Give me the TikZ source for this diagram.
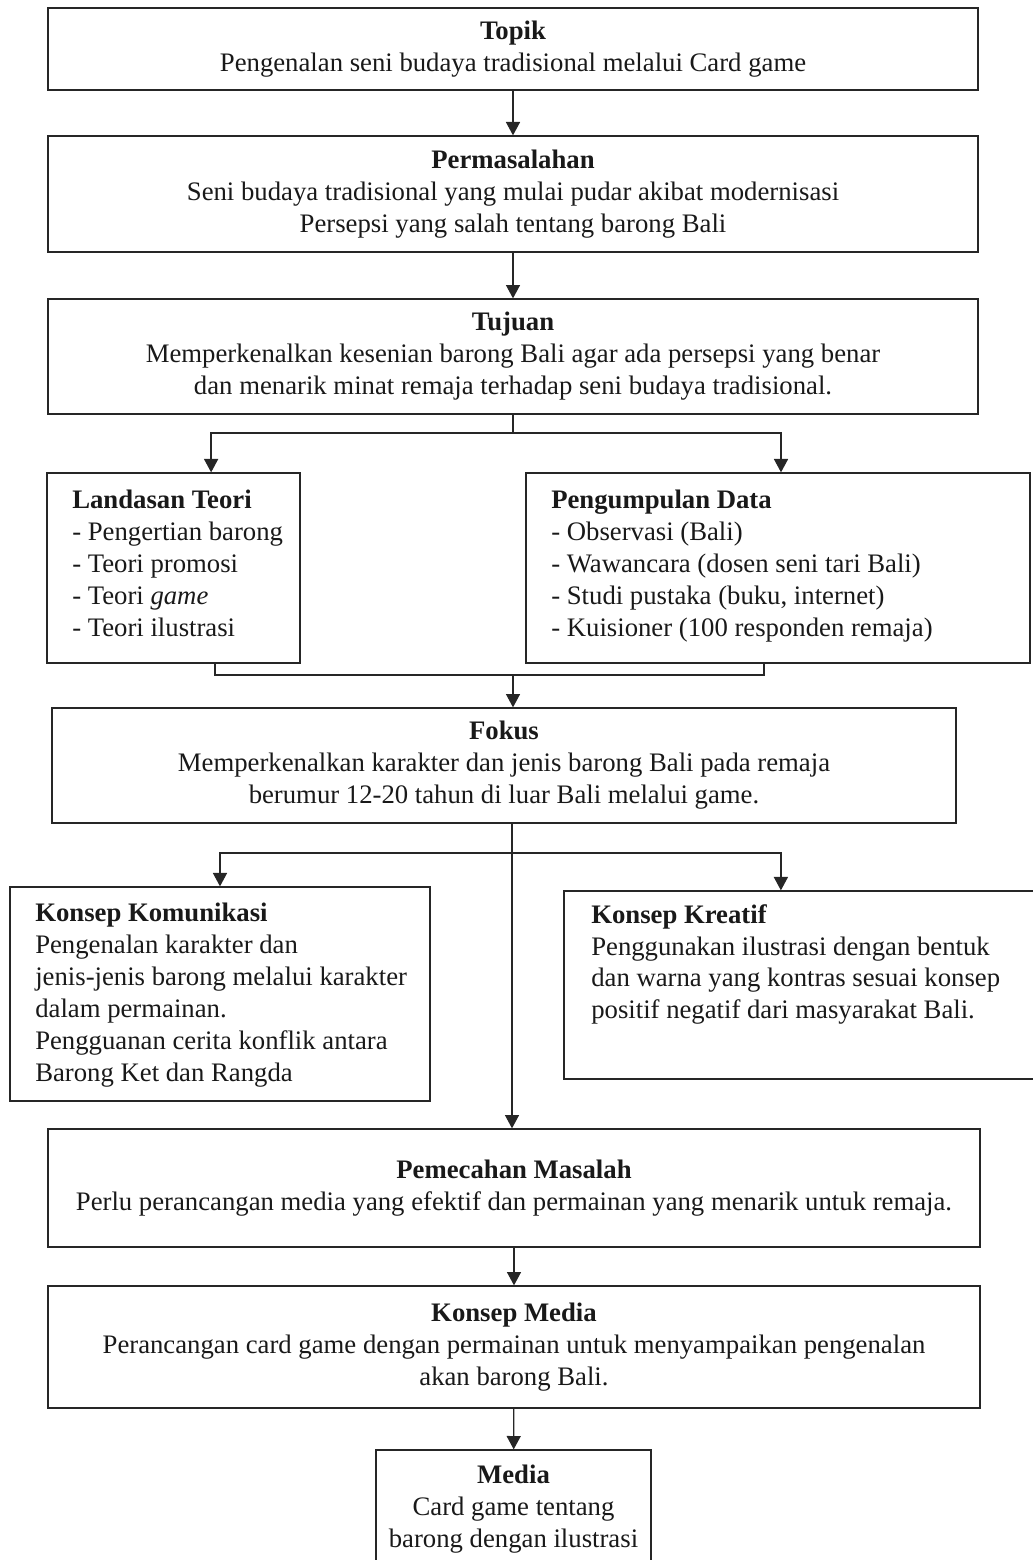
\documentclass[tikz,border=0pt]{standalone}
\usepackage{fontspec}
\setmainfont{Liberation Serif}
\usetikzlibrary{arrows.meta}

\begin{document}
\begin{tikzpicture}[x=0.025cm, y=-0.025cm,
    box/.style={draw=black!85, line width=0.9pt, align=center, inner sep=0pt, font=\fontsize{19}{22.7}\selectfont, text=black!90},
    txt/.style={align=left, inner sep=0pt, anchor=north west, font=\fontsize{19}{22.7}\selectfont, text=black!90},
    link/.style={draw=black!85, line width=0.9pt},
    arr/.style={link, -{Triangle[length=9.5pt, width=10pt]}}]
    \useasboundingbox (0,0) rectangle (1033,1560);

    % Topik, Permasalahan, Tujuan
    \node[box, minimum width=23.25cm, minimum height=2.05cm] (topik) at (513,49) {\textbf{Topik}\\Pengenalan seni budaya tradisional melalui Card game};
    \node[box, minimum width=23.25cm, minimum height=2.9cm] (masalah) at (513,194) {\textbf{Permasalahan}\\Seni budaya tradisional yang mulai pudar akibat modernisasi\\Persepsi yang salah tentang barong Bali};
    \node[box, minimum width=23.25cm, minimum height=2.875cm] (tujuan) at (513,356.5) {\textbf{Tujuan}\\Memperkenalkan kesenian barong Bali agar ada persepsi yang benar\\dan menarik minat remaja terhadap seni budaya tradisional.};

    % Landasan Teori
    \node[box, minimum width=6.325cm, minimum height=4.75cm] (teori) at (173.5,568) {};
    \node[txt] (teoriT) at (72,490) {\textbf{Landasan Teori}\\- Pengertian barong\\- Teori promosi\\- Teori \textit{game}\\- Teori ilustrasi};

    % Pengumpulan Data
    \node[box, minimum width=12.6cm, minimum height=4.75cm] (data) at (778,568) {};
    \node[txt] (dataT) at (551,490) {\textbf{Pengumpulan Data}\\- Observasi (Bali)\\- Wawancara (dosen seni tari Bali)\\- Studi pustaka (buku, internet)\\- Kuisioner (100 responden remaja)};

    % Fokus
    \node[box, minimum width=22.6cm, minimum height=2.875cm] (fokus) at (504,765.5) {\textbf{Fokus}\\Memperkenalkan karakter dan jenis barong Bali pada remaja\\berumur 12-20 tahun di luar Bali melalui game.};

    % Konsep Komunikasi
    \node[box, minimum width=10.5cm, minimum height=5.35cm] (komunikasi) at (220,994) {};
    \node[txt] (komunikasiT) at (35,903) {\textbf{Konsep Komunikasi}\\Pengenalan karakter dan\\jenis-jenis barong melalui karakter\\dalam permainan.\\Pengguanan cerita konflik antara\\Barong Ket dan Rangda};

    % Konsep Kreatif
    \node[box, minimum width=12.025cm, minimum height=4.7cm] (kreatif) at (804.5,985) {};
    \node[txt] (kreatifT) at (591,904) {\textbf{Konsep Kreatif}\\Penggunakan ilustrasi dengan bentuk\\dan warna yang kontras sesuai konsep\\positif negatif dari masyarakat Bali.};

    % Pemecahan Masalah, Konsep Media, Media
    \node[box, minimum width=23.3cm, minimum height=2.95cm] (pemecahan) at (514,1188) {\textbf{Pemecahan Masalah}\\Perlu perancangan media yang efektif dan permainan yang menarik untuk remaja.};
    \node[box, minimum width=23.3cm, minimum height=3.05cm] (kmedia) at (514,1347) {\textbf{Konsep Media}\\Perancangan card game dengan permainan untuk menyampaikan pengenalan\\akan barong Bali.};
    \node[box, minimum width=6.875cm, minimum height=2.95cm] (media) at (513.5,1509) {\textbf{Media}\\Card game tentang\\barong dengan ilustrasi};

    % Connectors
    \draw[arr] (topik) -- (masalah);
    \draw[arr] (masalah) -- (tujuan);

    \coordinate (tj) at (513,433);
    \draw[link] (tujuan.south) -- (tj);
    \draw[arr] (tj) -| ([xshift=0.94cm]teori.north);
    \draw[arr] (tj) -| ([xshift=0.075cm]data.north);

    \coordinate (gab) at (513,675);
    \draw[link] ([xshift=1.04cm]teori.south) |- (gab);
    \draw[link] ([xshift=-0.35cm]data.south) |- (gab);
    \draw[arr] (gab) -- (gab |- fokus.north);

    \coordinate (cab) at (512,853);
    \draw[arr] (fokus.south -| cab) -- (pemecahan.north -| cab);
    \draw[arr] (cab) -| (komunikasi.north);
    \draw[arr] (cab) -| ([xshift=-0.59cm]kreatif.north);

    \draw[arr] (pemecahan) -- (kmedia);
    \draw[arr] (kmedia) -- (media);
\end{tikzpicture}
\end{document}
